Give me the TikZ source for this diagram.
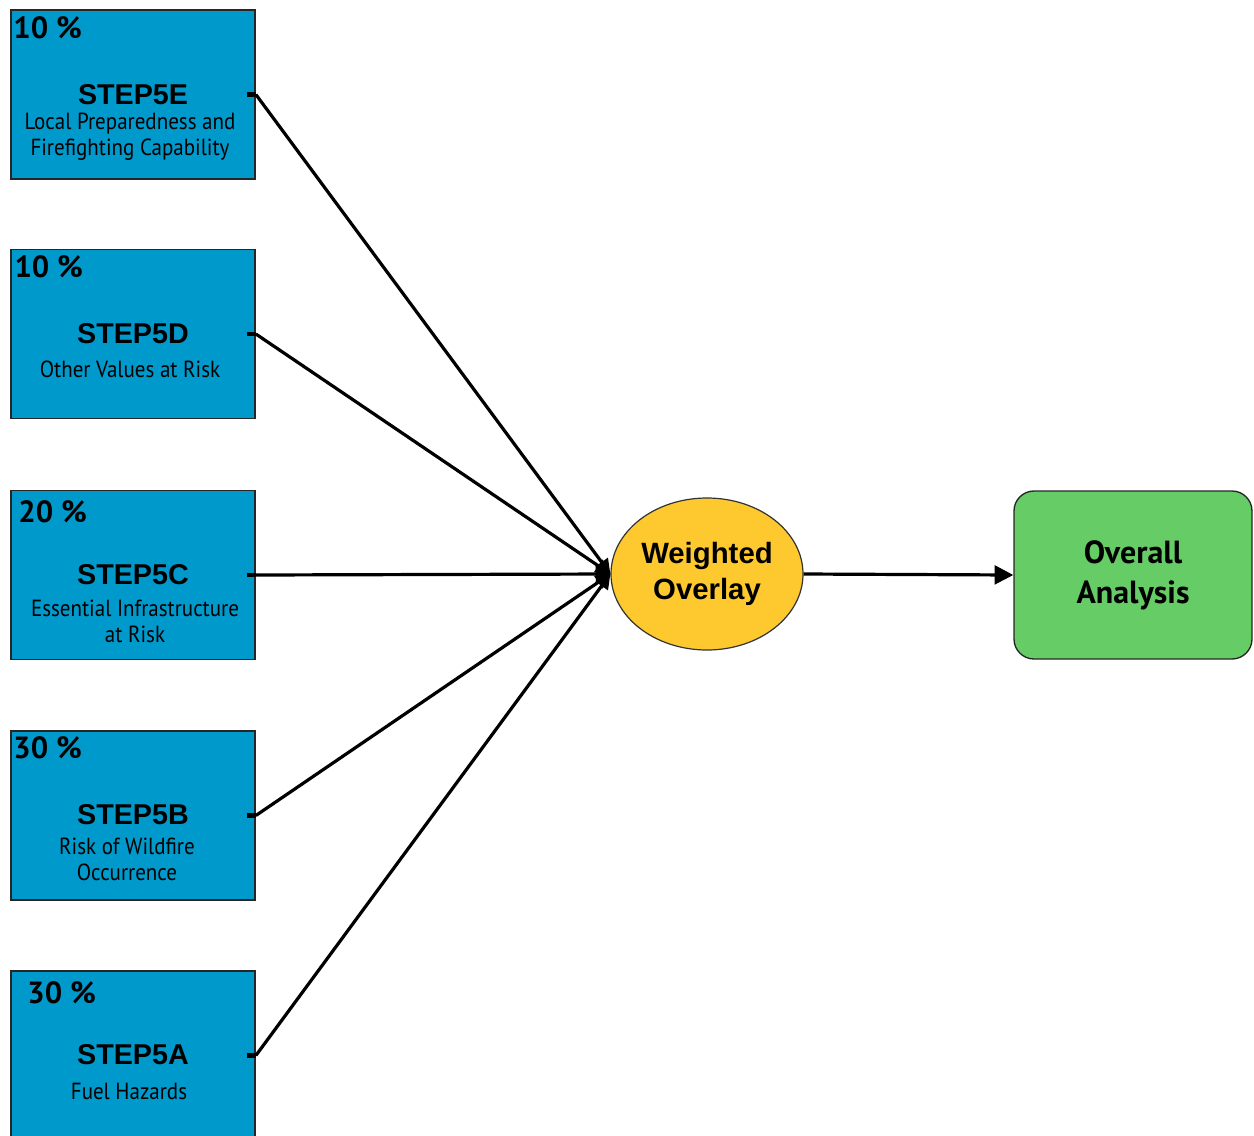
\documentclass[tikz,border=0pt]{standalone}
\usepackage{fontspec}
\setmainfont{Liberation Sans}
\newfontfamily\ptsans{PT Sans}
\newfontfamily\ptnarrow[FakeStretch=0.9]{PT Sans}
\usetikzlibrary{positioning,shapes.geometric,arrows.meta}

\definecolor{stepblue}{RGB}{0,153,204}
\definecolor{overlayyellow}{RGB}{253,201,47}
\definecolor{resultgreen}{RGB}{102,204,102}

\tikzset{every picture/.style={line width=0.75pt}}
\tikzset{
  stepbox/.style={draw=black!85, fill=stepblue, line width=1.3pt, inner sep=0pt,
    minimum width=183pt, minimum height=126.75pt},
  pct/.style={anchor=west, inner sep=0.75pt, font=\ptsans\bfseries\fontsize{23}{24}\selectfont},
  stepname/.style={inner sep=0.75pt, font=\bfseries\fontsize{21.5}{24}\selectfont},
  stepnote/.style={inner sep=0.75pt, align=center, font=\ptnarrow\fontsize{17.5}{19.5}\selectfont},
  overlay/.style={ellipse, draw=black!80, fill=overlayyellow, line width=0.9pt, inner sep=0pt,
    minimum width=144pt, minimum height=114pt, align=center,
    font=\bfseries\fontsize{22}{27}\selectfont},
  result/.style={draw=black!85, fill=resultgreen, rounded corners=15pt, line width=1pt,
    minimum width=178.5pt, minimum height=126pt, align=center,
    font=\ptsans\bfseries\fontsize{24}{30}\selectfont},
  link/.style={line width=2.4pt, -{Triangle[length=11pt,width=11pt]}},
  stub/.style={line width=3.2pt},
}

\begin{document}
\begin{tikzpicture}[x=0.75pt,y=0.75pt,yscale=-1,xscale=1]
%uncomment if require: \path (0,1136); %set diagram left start at 0, and has height of 1136
\useasboundingbox (0,0) rectangle (1254,1136);

%Shape: Rectangle [id:stepE]
\node[stepbox] (bE) at (133,94.5) {};
%Shape: Rectangle [id:stepD]
\node[stepbox] (bD) at (133,334) {};
%Shape: Rectangle [id:stepC]
\node[stepbox] (bC) at (133,575) {};
%Shape: Rectangle [id:stepB]
\node[stepbox] (bB) at (133,815.5) {};
%Shape: Rectangle [id:stepA]
\node[stepbox] (bA) at (133,1055.5) {};

%Shape: Ellipse [id:overlay]
\node[overlay] (ov) at (707,574) {Weighted\\Overlay};
%Shape: Rounded Rect [id:result]
\node[result] (res) at (1133,575) {Overall\\Analysis};

% Text Node
\node[pct] (pE) at (12,28) {10 \%};
\node[stepname] (tE) at (133,95) {STEP5E};
\node[stepnote] (nE) at (130,137) {Local Preparedness and\\Firefighting Capability};
% Text Node
\node[pct] (pD) at (13,267) {10 \%};
\node[stepname] (tD) at (133,334) {STEP5D};
\node[stepnote] (nD) at (130,369) {Other Values at Risk};
% Text Node
\node[pct] (pC) at (17,512) {20 \%};
\node[stepname] (tC) at (133,575) {STEP5C};
\node[stepnote] (nC) at (135,621.5) {Essential Infrastructure\\at Risk};
% Text Node
\node[pct] (pB) at (12,748) {30 \%};
\node[stepname] (tB) at (133,815) {STEP5B};
\node[stepnote] (nB) at (127,859) {Risk of Wildfire\\Occurrence};
% Text Node
\node[pct] (pA) at (26,993) {30 \%};
\node[stepname] (tA) at (133,1055) {STEP5A};
\node[stepnote] (nA) at (129,1091) {Fuel Hazards};

%Straight Lines
\foreach \b in {bE,bD,bC,bB,bA}{
  \draw[stub] ([xshift=-7pt]\b.east) -- (\b.east);
  \draw[link] (\b.east) -- (ov.west);
}
%Straight Lines
\draw[link, -{Triangle[length=14pt,width=14pt]}] (ov.east) -- (res.west);

\end{tikzpicture}
\end{document}
